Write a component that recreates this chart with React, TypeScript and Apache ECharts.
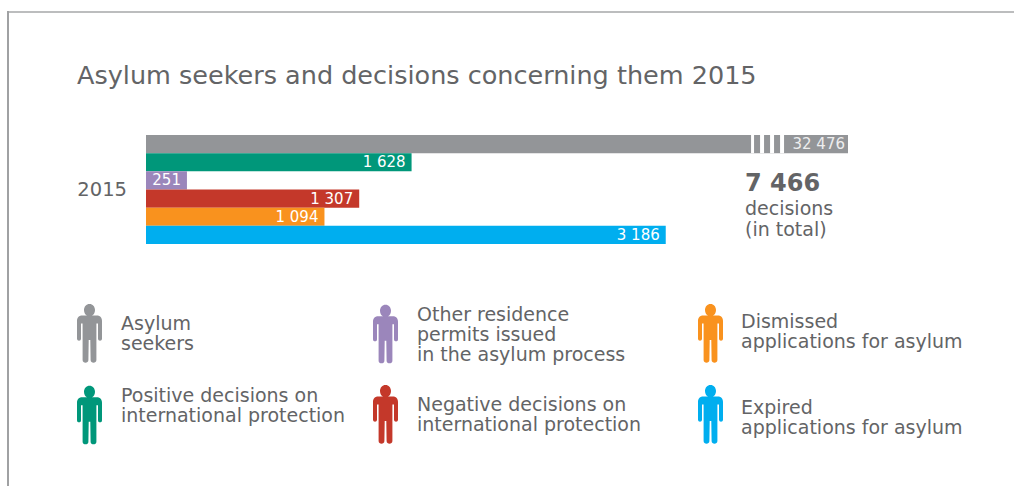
import React, { useEffect, useRef } from "react";
import * as echarts from "echarts";

const titleText = "Asylum seekers and decisions concerning them 2015";
const years = ["2015"];
const seriesNames = [
  "Asylum seekers",
  "Positive decisions on international protection",
  "Other residence permits issued in the asylum process",
  "Negative decisions on international protection",
  "Dismissed applications for asylum",
  "Expired applications for asylum",
];
const seriesValues = [32476, 1628, 251, 1307, 1094, 3186];
const seriesColors = ["#939598", "#00977a", "#9b86bb", "#c4382a", "#f9921e", "#00aeef"];
const legendLines = [
  ["Asylum", "seekers"],
  ["Positive decisions on", "international protection"],
  ["Other residence", "permits issued", "in the asylum process"],
  ["Negative decisions on", "international protection"],
  ["Dismissed", "applications for asylum"],
  ["Expired", "applications for asylum"],
];
const legendSpots = [
  [77, 304],
  [77, 385],
  [373, 304],
  [373, 385],
  [698, 304],
  [698, 385],
];
// Blank strips above and below each legend text nudge it off the figure's middle.
const legendNudge = [
  [0, 0],
  [0, 20],
  [0, 0],
  [0, 0],
  [0, 5],
  [5, 0],
];
const totalLabel = "7 466";
const totalCaption = ["decisions", "(in total)"];
// Stretch of the axis skipped between the short bars and the asylum seeker total.
const axisBreak = { start: 3709, end: 32084, gap: "4.7%" };
// White slits across the skipped stretch, in pixels from where it begins.
const slits = [
  [0, 3],
  [9, 4],
  [19, 4],
  [29, 4],
];

const FONT = "'DejaVu Sans', Inter, sans-serif";
const INK = "#636466";
const PERSON =
  "path://M12.5 0C15.6 0 18 2.6 18 6C18 8.6 16.8 10.6 15 11.6L20 11.6C23 11.6 25 13.8 25 17L25 34.5C25 37.4 21 37.4 21 34.5L21 19.5L19.4 19.5L19.4 56C19.4 59.6 13.6 59.6 13.6 56L13.3 36L11.7 36L11.4 56C11.4 59.6 5.6 59.6 5.6 56L5.6 19.5L4 19.5L4 34.5C4 37.4 0 37.4 0 34.5L0 17C0 13.8 2 11.6 5 11.6L10 11.6C8.2 10.6 7 8.6 7 6C7 2.6 9.4 0 12.5 0Z";

const spaced = (v: number) => String(v).replace(/\B(?=(\d{3})+$)/g, " ");

const legendText = (i: number) => {
  const [above, below] = legendNudge[i];
  return [
    ...(above ? ["{above| }"] : []),
    ...legendLines[i],
    ...(below ? ["{below| }"] : []),
  ].join("\n");
};

export default function App() {
  const ref = useRef<HTMLDivElement>(null);

  useEffect(() => {
    document.body.style.margin = "0";
    const chart = echarts.init(ref.current!, undefined, { renderer: "svg" });

    const bars = seriesNames.map((name, i) => ({
      name,
      type: "bar" as const,
      data: [seriesValues[i]],
      barGap: 0,
      barCategoryGap: 0,
      itemStyle: { color: seriesColors[i] },
      label: {
        show: true,
        position: "insideRight" as const,
        distance: i === 0 ? 3 : 6,
        color: i === 0 ? "#eeeeee" : "#ffffff",
        fontFamily: FONT,
        fontSize: 15,
        formatter: (p: any) => spaced(p.value),
      },
      z: 2,
    }));

    const slitSeries = {
      type: "custom" as const,
      silent: true,
      z: 3,
      data: [[axisBreak.start, years[0]]],
      label: { show: false },
      renderItem: (_: any, api: any) => {
        const [x] = api.coord([api.value(0), 0]);
        const band = api.size([0, 1])[1];
        const [, y] = api.coord([0, 0]);
        const top = y - band / 2;
        return {
          type: "group",
          children: slits.map(([dx, w]) => ({
            type: "rect",
            shape: { x: x + dx, y: top, width: w, height: band / 6 },
            style: { fill: "#ffffff" },
          })),
        };
      },
    };

    chart.setOption({
      animation: false,
      backgroundColor: "#ffffff",
      textStyle: { fontFamily: FONT },
      title: {
        text: titleText,
        left: 77,
        top: 62,
        padding: 0,
        textStyle: { fontFamily: FONT, fontSize: 25.5, fontWeight: 400, color: INK },
      },
      grid: { left: 146, top: 135, width: 702, height: 109 },
      xAxis: {
        type: "value",
        min: 0,
        max: 32476,
        axisLine: { show: false },
        axisTick: { show: false },
        axisLabel: { show: false },
        splitLine: { show: false },
        breaks: [axisBreak],
        breakArea: { show: false, expandOnClick: false },
      },
      yAxis: {
        type: "category",
        data: years,
        inverse: true,
        axisLine: { show: false },
        axisTick: { show: false },
        axisLabel: { margin: 19, fontFamily: FONT, fontSize: 19.5, color: INK },
      },
      legend: seriesNames.map((name, i) => ({
        data: [name],
        left: legendSpots[i][0],
        top: legendSpots[i][1],
        padding: 0,
        icon: PERSON,
        itemWidth: 25,
        itemHeight: 59,
        selectedMode: false,
        formatter: () => legendText(i),
        textStyle: {
          fontFamily: FONT,
          fontSize: 19,
          lineHeight: 20,
          color: INK,
          padding: [0, 0, 0, i >= 4 ? 13 : 14],
          rich: {
            above: { fontSize: 1, lineHeight: legendNudge[i][0] },
            below: { fontSize: 1, lineHeight: legendNudge[i][1] },
          },
        },
      })),
      graphic: [
        { type: "rect", shape: { x: 8, y: 11, width: 1006, height: 2 }, style: { fill: "#bcbdbe" } },
        { type: "rect", shape: { x: 7, y: 11, width: 2, height: 475 }, style: { fill: "#a0a1a3" } },
        {
          type: "text",
          x: 745,
          y: 171,
          style: { text: totalLabel, fontFamily: FONT, fontSize: 24, fontWeight: 700, fill: INK },
        },
        {
          type: "text",
          x: 745,
          y: 197,
          style: {
            text: totalCaption.join("\n"),
            fontFamily: FONT,
            fontSize: 19,
            lineHeight: 21.5,
            fill: INK,
          },
        },
      ],
      series: [...bars, slitSeries],
    });

    return () => chart.dispose();
  }, []);

  return <div ref={ref} style={{ width: 1014, height: 486 }} />;
}
